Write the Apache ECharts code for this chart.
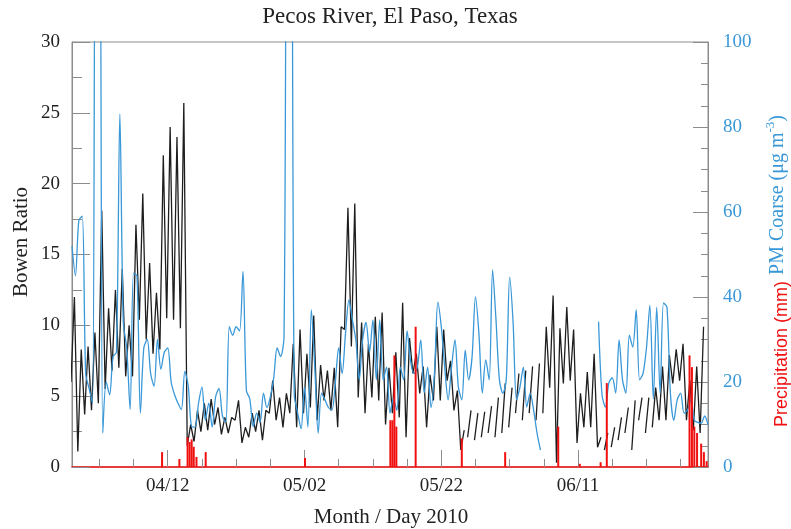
<!DOCTYPE html>
<html><head><meta charset="utf-8">
<script src="https://cdn.jsdelivr.net/npm/echarts@6/dist/echarts.min.js"></script>
<style>html,body{margin:0;padding:0;background:#fff}#c{width:791px;height:529px}</style>
</head><body><div id="c"></div>
<script>
// x values are day-of-year 2010 (88 = Mar 29)
const startDay = 88;
const endDay = 181;
const majorTickDays = [102, 122, 142, 162];
const minorTickDays = [92, 97, 107, 112, 117, 127, 132, 137, 147, 152, 157, 167, 172, 177];
const bowenTicks = [0, 5, 10, 15, 20, 25, 30];
const pmTicks = [0, 20, 40, 60, 80, 100];

// Bowen ratio: night low and daytime peak for each day from startDay
const bowenLow = [6.0,1.1,3.7,4.0,4.5,5.5,6.8,7.0,6.4,6.4,10.4,9.0,8.0,8.3,10.5,10.4,9.8,
  1.5,1.8,2.5,2.6,3.0,2.3,2.4,3.3,1.7,2.1,2.5,1.9,3.8,3.3,2.8,3.8,2.8,3.8,4.2,3.3,4.7,4.0,2.8,
  9.7,8.5,4.9,3.8,4.9,4.7,3.0,3.8,3.5,2.1,6.6,5.2,2.8,4.7,4.7,6.1,4.0,
  1.2,2.1,1.9,2.1,2.4,2.1,2.4,2.8,3.8,3.3,3.8,3.3,3.8,5.6,0.3,5.9,6.1,1.7,2.8,2.8,
  1.4,1.2,1.4,1.9,2.4,1.2,3.3,2.4,2.8,3.3,3.3,5.9,6.1,3.3,2.6,2.4];
const bowenHigh = [12.0,8.3,8.5,9.5,18.1,11.2,12.5,14.0,10.0,17.1,19.3,14.4,12.3,22.0,24.0,23.3,25.7,
  3.0,4.0,4.5,4.8,4.2,3.5,3.5,4.7,2.8,3.8,4.0,4.0,6.1,4.9,5.2,8.7,9.7,8.0,10.7,7.2,6.8,7.0,9.9,
  18.3,18.6,10.2,8.7,10.6,10.9,7.0,8.1,11.6,9.1,8.0,7.1,6.5,9.9,9.7,7.5,5.4,
  2.6,4.0,3.8,3.9,4.3,4.9,5.9,5.6,6.6,6.8,7.1,7.3,9.9,12.1,9.8,11.3,9.7,5.2,6.7,8.0,
  2.1,2.4,2.8,3.5,4.2,4.7,4.9,4.9,5.6,7.1,7.9,8.3,8.7,6.1,7.1,9.9];
const bowenGapDays = [145,146,147,148,149,150,151,152,153,154,155,156,165,166,167,168,169,170,171,172];

// PM coarse (ug m-3), every 12 h from startDay; null = missing
const pmCoarse = [52,45,58,59,22,18.5,15,150,150,8,
  20,17,26,27,83,34,28,13.5,45.6,45,
  12.7,28,30,22,19,30,23,27,28,20,
  17,15,13.5,22.5,19,9.5,9.4,15,18.8,11,
  15,9.4,16.5,18.5,12,10.5,33,31,33,32,
  46,18,16,9.5,12.7,10.5,17.4,14,16.5,21,
  28,26,30.6,150,150,17,12.7,9,18.8,9.4,
  37,23.5,8,17.4,15.8,14,13.4,19.8,28,22,
  31.5,39.3,34.6,30,20.5,30,34,27,34.6,20.5,
  34.6,20.5,23.5,12.7,16,13.4,23.5,20.5,32,25,
  22,23.5,29.9,17.4,23.5,14,22,38.8,33,23.5,
  15.8,23.5,29.9,18.8,15.8,27.5,20.5,25.9,40,31.5,
  17.4,25.2,20.5,46.4,34.6,20.5,17.4,20.5,44.7,34,
  15.8,18.8,23.5,14.1,17.4,13.4,8,4,
  null,null,null,null,null,null,null,null,null,null,null,null,null,null,null,null,
  34.2,17,14.1,19.8,21,17.4,29.9,20.5,17.4,31,
  28.2,37,20.5,22,28,38,16,37.6,17.4,38.6,
  37.6,17.4,11,15.8,17.4,12.7,13.4,15.8,11,10.5,
  10.3,12,10];

// Precipitation events
const precipDays = [101.17,103.7,104.9,105.2,105.5,105.8,106.2,107.55,122.07,134.55,134.85,135.14,135.43,
  138.25,145.0,151.34,159.1,162.25,165.3,166.2,178.3,178.65,179.0,179.4,180.0,180.4,180.8];
const precipMm = [1.4,0.75,2.8,2.35,2.6,1.9,0.95,1.4,0.85,4.4,4.4,10.5,3.8,
  13.2,2.7,1.4,3.8,0.3,0.45,7.9,10.5,9.4,3.8,3.2,2.2,1.4,0.55];

const bowenData = [];
for (let k = 0; k < bowenLow.length; k++) {
  const d = startDay + k;
  bowenData.push([d - 0.15, bowenLow[k]]);
  bowenData.push([d + 0.35, bowenHigh[k]]);
  if (bowenGapDays.indexOf(d) >= 0) bowenData.push([d + 0.6, '-']);
}
const pmData = pmCoarse.map((v, i) => [startDay + i * 0.5, v === null ? '-' : v]);
const precipData = precipDays.map((d, i) => [d, precipMm[i]]);

function dayLabel(v) {
  const dt = new Date(Date.UTC(2010, 0, 1) + (v - 1) * 86400000);
  const m = String(dt.getUTCMonth() + 1).padStart(2, '0');
  const d = String(dt.getUTCDate()).padStart(2, '0');
  return m + '/' + d;
}

const SERIF = 'Liberation Serif, Times New Roman, serif';
const GRAY = '#8c8c8c';
const BLUE = '#3a98d8';
const RED = '#f01010';

const chart = echarts.init(document.getElementById('c'), null, {renderer: 'canvas'});
chart.setOption({
  animation: false,
  backgroundColor: '#fff',
  grid: {left: 72, right: 83, top: 42, bottom: 62, show: true, borderColor: GRAY, borderWidth: 1, backgroundColor: 'transparent'},
  xAxis: [{
    type: 'value', min: startDay, max: endDay, position: 'bottom',
    axisLine: {show: true, onZero: false, lineStyle: {color: RED, width: 1.5}},
    axisTick: {show: true, inside: true, length: 17, customValues: majorTickDays, lineStyle: {color: GRAY}},
    axisLabel: {show: true, customValues: majorTickDays, formatter: dayLabel, color: '#222', fontFamily: SERIF, fontSize: 19, margin: 10},
    splitLine: {show: false}
  }, {
    type: 'value', min: startDay, max: endDay, position: 'bottom',
    axisLine: {show: false},
    axisTick: {show: true, inside: true, length: 8, customValues: minorTickDays, lineStyle: {color: GRAY}},
    axisLabel: {show: false},
    splitLine: {show: false}
  }],
  yAxis: [{
    type: 'value', min: 0, max: 30, interval: 5, position: 'left',
    axisLine: {show: true, lineStyle: {color: GRAY, width: 1}},
    axisTick: {show: true, inside: true, length: 18, lineStyle: {color: GRAY}},
    minorTick: {show: true, splitNumber: 2, length: 10, lineStyle: {color: GRAY}},
    axisLabel: {color: '#222', fontFamily: SERIF, fontSize: 19, margin: 12,
      customValues: bowenTicks},
    splitLine: {show: false}, minorSplitLine: {show: false}
  }, {
    type: 'value', min: 0, max: 100, interval: 20, position: 'right',
    axisLine: {show: true, lineStyle: {color: GRAY, width: 1}},
    axisTick: {show: true, inside: true, length: 15, lineStyle: {color: GRAY}},
    minorTick: {show: true, splitNumber: 4, length: 7, lineStyle: {color: GRAY}},
    axisLabel: {color: BLUE, fontFamily: SERIF, fontSize: 19, margin: 15, customValues: pmTicks},
    splitLine: {show: false}, minorSplitLine: {show: false}
  }, {
    type: 'value', min: 0, max: 40, show: false
  }],
  series: [{
    name: 'Bowen Ratio', type: 'line', xAxisIndex: 0, yAxisIndex: 0, data: bowenData,
    showSymbol: false, symbol: 'none', connectNulls: false, clip: true,
    lineStyle: {color: '#1e1e1e', width: 1.3}, z: 3
  }, {
    name: 'PM Coarse', type: 'line', xAxisIndex: 0, yAxisIndex: 1, data: pmData,
    showSymbol: false, symbol: 'none', connectNulls: false, clip: true, smooth: 0.3,
    lineStyle: {color: BLUE, width: 1.3}, z: 4
  }, {
    name: 'Precipitation', type: 'bar', xAxisIndex: 0, yAxisIndex: 2, data: precipData,
    barWidth: 2, itemStyle: {color: RED}, z: 5
  }],
  graphic: [
    {type: 'text', x: 390, y: 17, style: {text: 'Pecos River, El Paso, Texas', font: '23px ' + SERIF, fill: '#222', textAlign: 'center', textVerticalAlign: 'middle'}},
    {type: 'text', x: 391, y: 517, style: {text: 'Month / Day 2010', font: '21px ' + SERIF, fill: '#222', textAlign: 'center', textVerticalAlign: 'middle'}},
    {type: 'text', x: 21, y: 242, rotation: Math.PI / 2, style: {text: 'Bowen Ratio', font: '21px ' + SERIF, fill: '#222', textAlign: 'center', textVerticalAlign: 'middle'}},
    {type: 'text', x: 776, y: 195, rotation: Math.PI / 2, style: {
      text: '{a|PM Coarse (μg m}{s|-3}{a|)}', fill: BLUE, textAlign: 'center', textVerticalAlign: 'middle',
      rich: {a: {fontFamily: SERIF, fontSize: 20, fill: BLUE, lineHeight: 24, verticalAlign: 'bottom'},
             s: {fontFamily: SERIF, fontSize: 13, fill: BLUE, lineHeight: 24, verticalAlign: 'top'}}}},
    {type: 'text', x: 782, y: 354, rotation: Math.PI / 2, style: {text: 'Precipitation (mm)', font: '18px Liberation Sans, Arial, sans-serif', fill: RED, textAlign: 'center', textVerticalAlign: 'middle'}}
  ]
});
</script></body></html>
